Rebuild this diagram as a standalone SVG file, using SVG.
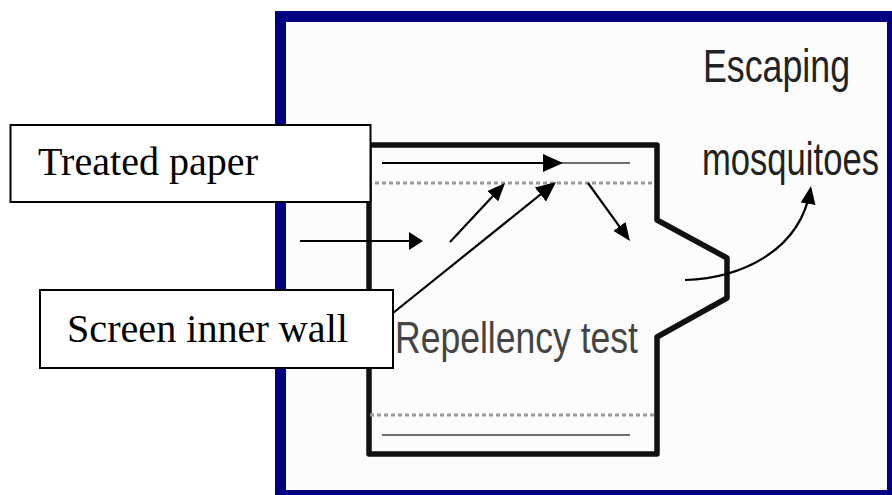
<svg xmlns="http://www.w3.org/2000/svg" width="892" height="495" viewBox="0 0 892 495">
<style>
.lbl{fill:#fff;stroke:#000;stroke-width:2}
.tnr{font-family:"Liberation Serif","Times New Roman",serif;font-size:40px;fill:#000}
.sans{font-family:"Liberation Sans",Arial,sans-serif;fill:#222}
.arr{stroke:#000;stroke-width:2.2;fill:none}
.dot{stroke:#999;stroke-width:3;stroke-dasharray:4 3;fill:none}
.paper{stroke:#707070;stroke-width:2;fill:none}
</style>
<defs>
<marker id="hBig" markerUnits="userSpaceOnUse" markerWidth="20" markerHeight="18" refX="17" refY="9" orient="auto"><path d="M0,0 L20,9 L0,18 Z" fill="#000"/></marker>
<marker id="hStub" markerUnits="userSpaceOnUse" markerWidth="14" markerHeight="18" refX="11" refY="9" orient="auto"><path d="M0,0 L14,9 L0,18 Z" fill="#000"/></marker>
<marker id="hMed" markerUnits="userSpaceOnUse" markerWidth="18" markerHeight="15" refX="15" refY="7.5" orient="auto"><path d="M0,0 L18,7.5 L0,15 Z" fill="#000"/></marker>
</defs>
<rect x="0" y="0" width="892" height="495" fill="#fff"/>
<g id="frame">
<rect x="280.5" y="16.5" width="612" height="479" fill="#fcfcfc" stroke="#000080" stroke-width="11"/>
</g>
<g id="chamber">
<path d="M369,145 L657,145 L657,220 L727,258 L727,298 L657,337 L657,454 L369,454 Z" fill="none" stroke="#111" stroke-width="5.5" stroke-linejoin="round"/>
<line class="paper" x1="383" y1="163" x2="630" y2="163"/>
<line class="dot" x1="375" y1="183" x2="654" y2="183"/>
<line class="dot" x1="370" y1="415" x2="654" y2="415"/>
<line class="paper" x1="382" y1="435" x2="630" y2="435"/>
</g>
<g id="connectors">
<line class="arr" x1="382" y1="163" x2="560" y2="163" marker-end="url(#hBig)"/>
<line class="arr" x1="300" y1="241" x2="420" y2="241" marker-end="url(#hStub)"/>
<line class="arr" x1="450" y1="242" x2="503" y2="185.2" marker-end="url(#hMed)"/>
<line class="arr" x1="393" y1="313" x2="553.7" y2="183.9" marker-end="url(#hBig)"/>
<line class="arr" x1="588" y1="183" x2="628.2" y2="238.6" marker-end="url(#hMed)"/>
<path class="arr" d="M685,280 C740,278 800,252 810.5,189" marker-end="url(#hMed)"/>
</g>
<g id="escaping">
<text class="sans" font-size="46" transform="translate(703,82) scale(0.777,1)">Escaping</text>
<text class="sans" font-size="46" transform="translate(702,175) scale(0.7526,1)">mosquitoes</text>
</g>
<g id="repellency">
<text class="sans" x="395" y="353" font-size="44" style="fill:#444" textLength="243" lengthAdjust="spacingAndGlyphs">Repellency test</text>
</g>
<g id="treated-paper">
<rect class="lbl" x="10.5" y="125" width="360" height="77"/>
<text class="tnr" x="38" y="175" textLength="220" lengthAdjust="spacingAndGlyphs">Treated paper</text>
</g>
<g id="screen-inner-wall">
<rect class="lbl" x="40" y="290" width="353" height="78"/>
<text class="tnr" x="67" y="342" textLength="281" lengthAdjust="spacingAndGlyphs">Screen inner wall</text>
</g>
</svg>
